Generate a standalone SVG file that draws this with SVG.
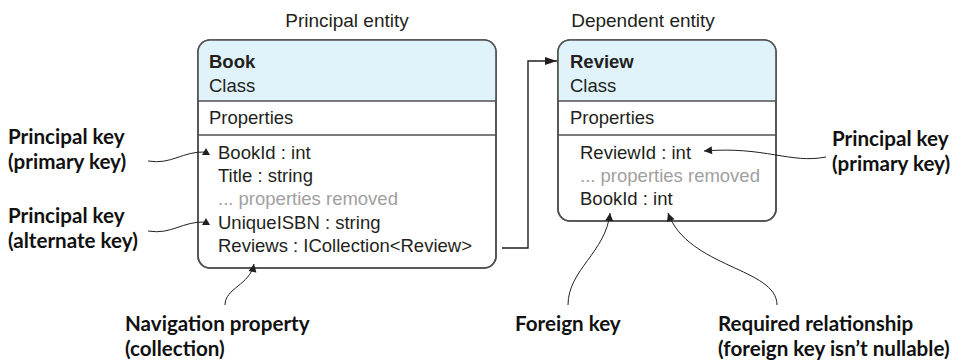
<svg xmlns="http://www.w3.org/2000/svg" width="970" height="362" viewBox="0 0 970 362">
<style>
  .t{font-family:"Liberation Sans",Arial,sans-serif;font-size:18.5px;fill:#231f20}
  .b{font-weight:bold}
  .g{fill:#a0a0a0}
  .ttl{font-family:"Liberation Sans",Arial,sans-serif;font-size:19px;fill:#231f20}
  .lab{font-family:Lato,"Open Sans",sans-serif;font-weight:bold;font-size:20.6px;fill:#111}
  .box{fill:#fff;stroke:#505050;stroke-width:1.6}
  .hdr{fill:#e0f3fb}
  .sep{stroke:#505050;stroke-width:1.3}
  .cv{fill:none;stroke:#231f20;stroke-width:1}
  .ln{fill:none;stroke:#231f20;stroke-width:1.4}
</style>
<defs>
  <marker id="up" markerUnits="userSpaceOnUse" markerWidth="12" markerHeight="12" viewBox="-6 -6 12 12" refX="0" refY="0" orient="0">
    <path d="M-4,3 L0,-4 L4,3 Z" fill="#231f20"/>
  </marker>
  <marker id="tip" markerUnits="userSpaceOnUse" markerWidth="12" markerHeight="12" viewBox="-10 -6 12 12" refX="0" refY="0" orient="auto">
    <path d="M-8,-4 L0,0 L-8,4 Z" fill="#231f20"/>
  </marker>
  <marker id="big" markerUnits="userSpaceOnUse" markerWidth="16" markerHeight="12" viewBox="-14 -6 16 12" refX="0" refY="0" orient="auto">
    <path d="M-12,-4 L0,0 L-12,4 Z" fill="#231f20"/>
  </marker>
  <clipPath id="cb"><rect x="198" y="40" width="298" height="228" rx="12"/></clipPath>
  <clipPath id="cr"><rect x="558" y="40" width="218" height="181" rx="12"/></clipPath>
</defs>

<text class="ttl" x="347" y="27" text-anchor="middle">Principal entity</text>
<text class="ttl" x="643" y="27" text-anchor="middle">Dependent entity</text>

<g id="book">
  <rect class="box" x="198" y="40" width="298" height="228" rx="12"/>
  <rect class="hdr" x="198" y="40" width="298" height="61" clip-path="url(#cb)"/>
  <rect x="198" y="40" width="298" height="228" rx="12" fill="none" stroke="#505050" stroke-width="1.6"/>
  <line class="sep" x1="198" y1="101" x2="496" y2="101"/>
  <line class="sep" x1="198" y1="135" x2="496" y2="135"/>
  <text class="t b" x="209" y="68">Book</text>
  <text class="t" x="209" y="92">Class</text>
  <text class="t" x="209" y="124">Properties</text>
  <text class="t" x="218" y="159">BookId : int</text>
  <text class="t" x="218" y="182">Title : string</text>
  <text class="t g" x="218" y="205">... properties removed</text>
  <text class="t" x="218" y="229">UniqueISBN : string</text>
  <text class="t" x="218" y="252">Reviews : ICollection&lt;Review&gt;</text>
</g>

<g id="review">
  <rect class="box" x="558" y="40" width="218" height="181" rx="12"/>
  <rect class="hdr" x="558" y="40" width="218" height="61" clip-path="url(#cr)"/>
  <rect x="558" y="40" width="218" height="181" rx="12" fill="none" stroke="#505050" stroke-width="1.6"/>
  <line class="sep" x1="558" y1="101" x2="776" y2="101"/>
  <line class="sep" x1="558" y1="135" x2="776" y2="135"/>
  <text class="t b" x="570" y="68">Review</text>
  <text class="t" x="570" y="92">Class</text>
  <text class="t" x="570" y="124">Properties</text>
  <text class="t" x="580" y="159">ReviewId : int</text>
  <text class="t g" x="580" y="182">... properties removed</text>
  <text class="t" x="580" y="205">BookId : int</text>
</g>

<g id="label-pk1">
  <text class="lab" x="8" y="144">Principal key<tspan x="8" dy="25">(primary key)</tspan></text>
</g>
<g id="label-ak">
  <text class="lab" x="8" y="223">Principal key<tspan x="8" dy="25">(alternate key)</tspan></text>
</g>
<g id="label-pk2">
  <text class="lab" x="832" y="146">Principal key<tspan x="832" dy="25">(primary key)</tspan></text>
</g>
<g id="label-nav">
  <text class="lab" x="125" y="331">Navigation property<tspan x="125" dy="25">(collection)</tspan></text>
</g>
<g id="label-fk">
  <text class="lab" x="515" y="331">Foreign key</text>
</g>
<g id="label-req">
  <text class="lab" x="718" y="331">Required relationship<tspan x="718" dy="25">(foreign key isn’t nullable)</tspan></text>
</g>

<g id="connectors">
  <path class="cv" d="M148,161 C172,165 182,151 206,152" marker-end="url(#up)"/>
  <path class="cv" d="M148,231 C172,235 182,221 206,222" marker-end="url(#up)"/>
  <path class="cv" d="M826,157 C790,164 765,146 704,151" marker-end="url(#tip)"/>
  <path class="cv" d="M225,305 C225,288 250,285 254,264" marker-end="url(#tip)"/>
  <path class="cv" d="M568,305 C568,270 606,252 610,213" marker-end="url(#tip)"/>
  <path class="cv" d="M777,305 C777,268 688,268 668,213" marker-end="url(#tip)"/>
  <path class="ln" d="M502,248 H528 V61 H557" marker-end="url(#big)"/>
</g>
</svg>
